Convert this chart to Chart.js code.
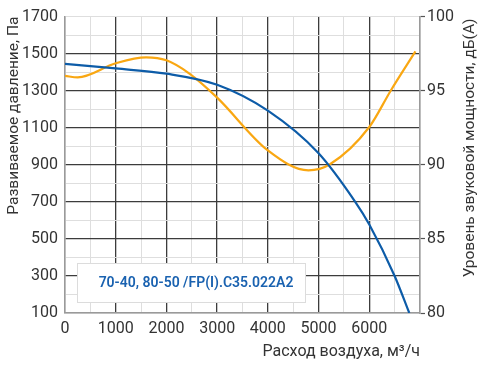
<!DOCTYPE html>
<html>
<head>
<meta charset="utf-8">
<script src="https://cdn.jsdelivr.net/npm/chart.js@4.4.0/dist/chart.umd.min.js"></script>
<style>
    html, body { margin: 0; padding: 0; background: #fff; }
</style>
</head>
<body>
<canvas id="fanChart" width="489" height="369"></canvas>
<script>
// pressure curve (left axis, Pa)
const flowPressure = [0, 1000, 2000, 3000, 4000, 5000, 5723, 6000, 6500, 6789];
const pressure = [1445, 1420, 1392, 1332, 1192, 962, 700, 578, 300, 100];
// sound power curve (right axis, dB(A))
const flowSound = [0, 250, 1000, 1600, 2000, 2460, 3000, 4000, 4800, 5225, 6000, 6422, 6910];
const soundLevel = [96.0, 95.9, 96.85, 97.25, 97.05, 96.14, 94.53, 90.97, 89.63, 90.04, 92.55, 95.0, 97.65];

const modelName = "70-40, 80-50 /FP(I).C35.022A2";
const xTitle = "Расход воздуха, м³/ч";
const yTitle = "Развиваемое давление, Па";
const y1Title = "Уровень звуковой мощности, дБ(А)";

const darkGrid = "#3c3c3c";
const lightGrid = "#dedede";
const borderGrey = "#9a9a9a";
const textColor = "#333";
const tickFont = { family: "Roboto", size: 16 };

function toPoints(xs, ys) {
    return xs.map((x, i) => ({ x: x, y: ys[i] }));
}

// draws the right-hand title (reads bottom to top) and the model box
const extras = {
    id: "extras",
    afterDraw(chart) {
        const ctx = chart.ctx;
        const area = chart.chartArea;
        ctx.save();
        // right title
        ctx.translate(470, area.top + 2);
        ctx.rotate(-Math.PI / 2);
        ctx.font = "15.5px Roboto";
        ctx.fillStyle = textColor;
        ctx.textAlign = "right";
        ctx.textBaseline = "middle";
        ctx.fillText(y1Title, 0, 0);
        ctx.restore();

        // model label box
        ctx.save();
        ctx.fillStyle = "#fff";
        ctx.fillRect(77.5, 263.5, 228, 39);
        ctx.strokeStyle = "#dcdcdc";
        ctx.lineWidth = 1;
        ctx.strokeRect(77.5, 263.5, 228, 39);
        ctx.fillStyle = "#1a62b0";
        ctx.font = "600 14px Roboto";
        ctx.textAlign = "center";
        ctx.textBaseline = "middle";
        ctx.fillText(modelName, 196, 283);
        ctx.restore();
    }
};

new Chart(document.getElementById("fanChart"), {
    type: "line",
    data: {
        datasets: [{
            data: toPoints(flowPressure, pressure),
            borderColor: "#0d5ca8",
            borderWidth: 2.2,
            pointRadius: 0,
            cubicInterpolationMode: "monotone",
            yAxisID: "y"
        }, {
            data: toPoints(flowSound, soundLevel),
            borderColor: "#f9a712",
            borderWidth: 2.2,
            pointRadius: 0,
            cubicInterpolationMode: "monotone",
            yAxisID: "y1"
        }]
    },
    plugins: [extras],
    options: {
        responsive: false,
        devicePixelRatio: 1,
        animation: false,
        layout: { padding: { top: 10, left: 0, right: 0, bottom: 0 } },
        plugins: { legend: { display: false }, tooltip: { enabled: false } },
        scales: {
            x: {
                type: "linear",
                min: 0,
                max: 7000,
                afterFit: (scale) => { scale.height = 56; },
                ticks: {
                    stepSize: 500,
                    autoSkip: false,
                    maxRotation: 0,
                    padding: 6,
                    color: textColor,
                    font: tickFont,
                    callback: (v) => (v % 1000 === 0 && v < 7000) ? v : ""
                },
                grid: {
                    drawTicks: false,
                    color: (c) => {
                        const v = c.tick.value;
                        if (v === 0 || v === 7000) return borderGrey;
                        return v % 1000 === 0 ? darkGrid : lightGrid;
                    },
                    lineWidth: (c) => c.tick.value % 1000 === 0 ? 1.3 : 1
                },
                border: { color: borderGrey, width: 1.5 },
                title: {
                    display: true,
                    text: xTitle,
                    align: "end",
                    color: textColor,
                    font: { family: "Roboto", size: 16 },
                    padding: { top: 0, bottom: 7 }
                }
            },
            y: {
                position: "left",
                min: 100,
                max: 1700,
                afterFit: (scale) => { scale.width = 65; },
                ticks: {
                    stepSize: 100,
                    autoSkip: false,
                    padding: 7,
                    color: textColor,
                    font: tickFont,
                    callback: (v) => (v - 100) % 200 === 0 ? v : ""
                },
                grid: {
                    drawTicks: false,
                    color: (c) => {
                        const v = c.tick.value;
                        if (v === 100) return borderGrey;
                        return ((v - 100) % 200 === 0 && v !== 1700) ? darkGrid : lightGrid;
                    },
                    lineWidth: (c) => ((c.tick.value - 100) % 200 === 0 && c.tick.value !== 1700) ? 1.3 : 1
                },
                border: { color: borderGrey, width: 1.5 },
                title: {
                    display: true,
                    text: yTitle,
                    align: "end",
                    color: textColor,
                    font: { family: "Roboto", size: 15.5 },
                    padding: { top: 5, bottom: 0 }
                }
            },
            y1: {
                position: "right",
                min: 80,
                max: 100,
                afterFit: (scale) => { scale.width = 69; },
                ticks: {
                    stepSize: 5,
                    padding: 2,
                    color: textColor,
                    font: tickFont
                },
                grid: {
                    drawOnChartArea: false,
                    tickLength: 5,
                    tickColor: "#555",
                    tickWidth: 1.2
                },
                border: { color: borderGrey, width: 1.5 }
            }
        }
    }
});
</script>
</body>
</html>
